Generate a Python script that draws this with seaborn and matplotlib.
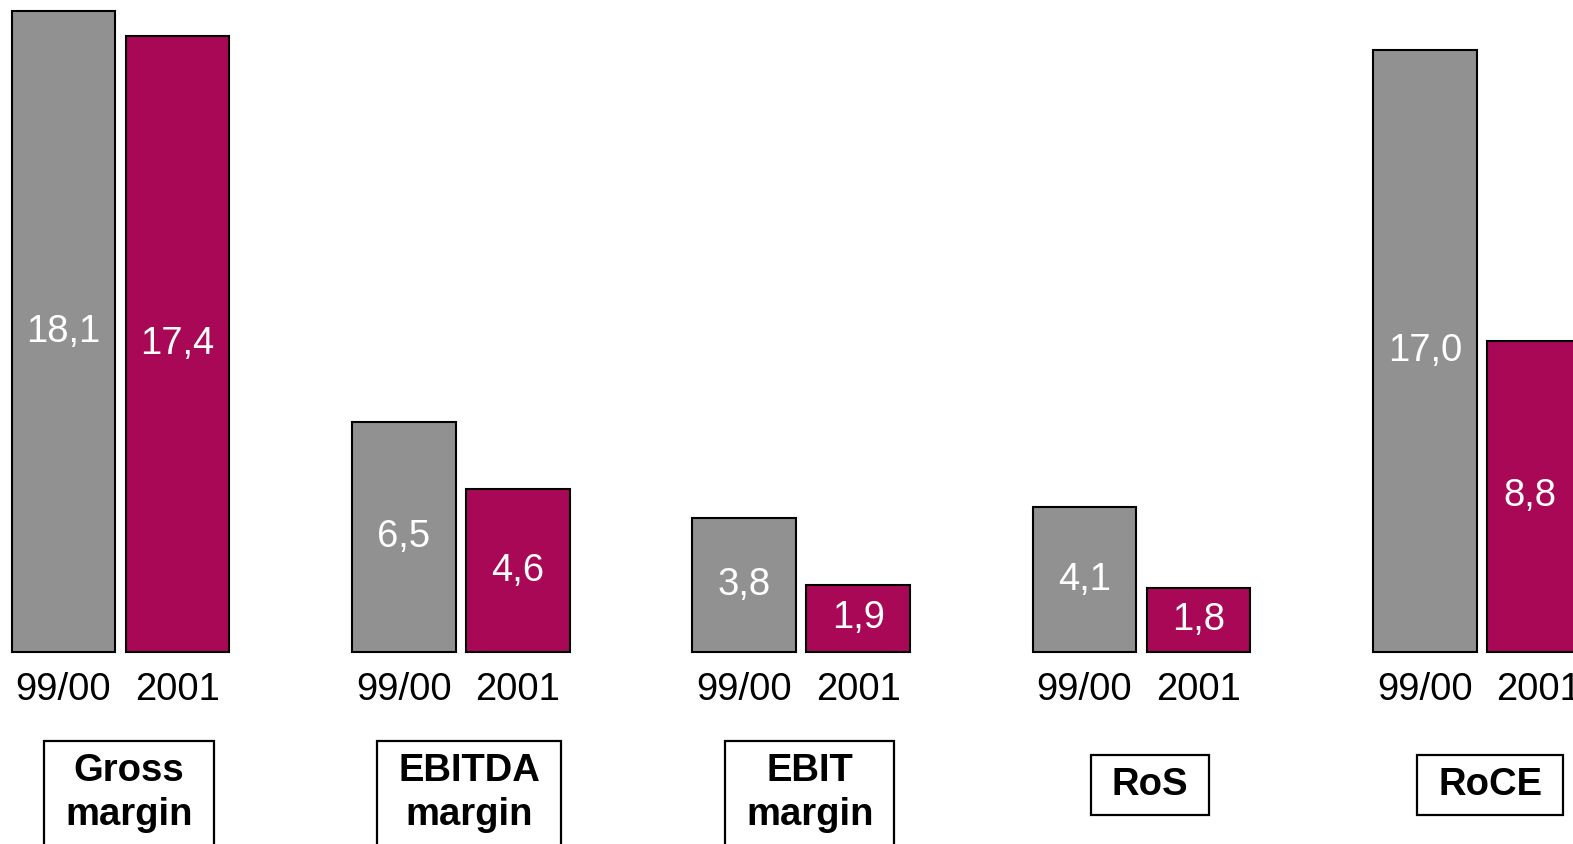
import seaborn as sns
import pandas as pd
import matplotlib.pyplot as plt
from matplotlib.patches import Rectangle
from matplotlib.transforms import IdentityTransform

# data
metrics = ["Gross\nmargin", "EBITDA\nmargin", "EBIT\nmargin", "RoS", "RoCE"]
years = ["99/00", "2001"]
v_9900 = [18.1, 6.5, 3.8, 4.1, 17.0]
v_2001 = [17.4, 4.6, 1.9, 1.8, 8.8]

grey = "#919191"
berry = "#A80856"

df = pd.DataFrame({
    "metric": metrics * 2,
    "year": [years[0]] * len(metrics) + [years[1]] * len(metrics),
    "value": v_9900 + v_2001,
})

sns.set_style("white")
plt.rcParams["font.family"] = ["Liberation Sans", "DejaVu Sans"]
plt.rcParams["text.color"] = "black"

fig = plt.figure(figsize=(15.73, 8.44), dpi=100)
ax = fig.add_axes([0, 0, 1, 1])

sns.barplot(data=df, x="metric", y="value", hue="year", order=metrics,
            hue_order=years, palette=[grey, berry], width=0.67, gap=0.09,
            edgecolor="black", linewidth=1.5, saturation=1, legend=False, ax=ax)

ax.set_xlim(-0.354, 4.268)
ax.set_ylim(-5.42, 18.42)
ax.axis("off")

# value labels inside bars + year labels under bars
for cont, yr in zip(ax.containers, years):
    labels = [f"{v:.1f}".replace(".", ",") for v in cont.datavalues]
    ax.bar_label(cont, labels=labels, label_type="center", color="white", fontsize=27.5)
    for bar in cont:
        xc = bar.get_x() + bar.get_width() / 2
        ax.text(xc, -1.08, yr, ha="center", va="center", fontsize=27.5, color="black")

# boxed metric names
texts = []
for i, m in enumerate(metrics):
    ypos = -3.98 if "\n" in m else -3.76
    t = ax.text(i + 0.025, ypos, m, ha="center", va="center", fontsize=27.5,
                fontweight="bold", linespacing=1.3, color="black")
    texts.append(t)

fig.canvas.draw()
rend = fig.canvas.get_renderer()
for t in texts:
    bb = t.get_window_extent(rend)
    rect = Rectangle((bb.x0 - 21, bb.y0 - 12), bb.width + 42, bb.height + 24,
                     transform=IdentityTransform(), fill=False, lw=1.6, ec="black")
    fig.add_artist(rect)

plt.savefig("out.png", dpi=100)
